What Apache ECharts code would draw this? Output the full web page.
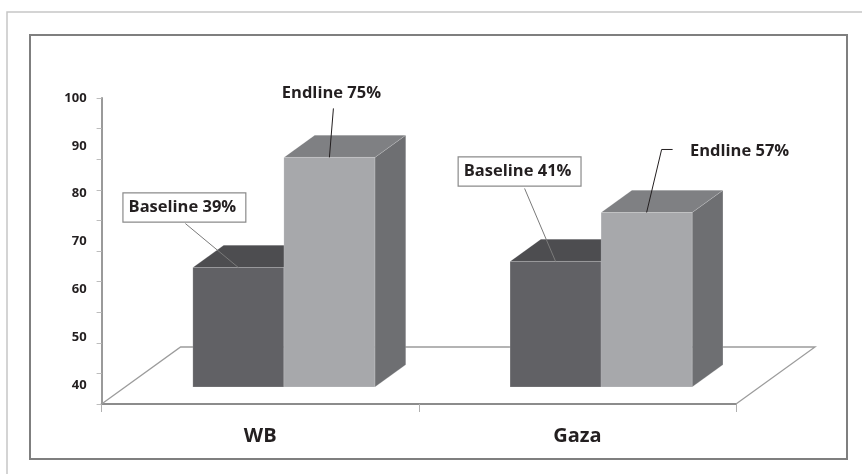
<!DOCTYPE html>
<html>
<head>
<meta charset="utf-8">
<script src="https://cdn.jsdelivr.net/npm/echarts@6/dist/echarts.min.js"></script>
<style>
  html, body { margin: 0; padding: 0; background: #ffffff; }
  #chart { width: 862px; height: 474px; }
</style>
</head>
<body>
<div id="chart"></div>
<script>
// Data
const categories = ['WB', 'Gaza'];
const seriesNames = ['Baseline', 'Endline'];
const baseline = [39, 41];
const endline = [75, 57];
const tickLabels = [40, 50, 60, 70, 80, 90, 100];

// 3D look: floor depth in px, bar footprint as fractions of band / floor depth
const FLOOR = { dx: 79, dy: 57 };
const BAR = { bandFrac: 0.287, depthStart: 0.3, depthFrac: 0.39 };
const FACE = [
  { front: '#616165', top: '#4d4d50', side: '#56565a' },
  { front: '#a7a8ab', top: '#7f8083', side: '#6e6f72' }
];
const TEXT = '#231f20';
const FONT = '"Open Sans", "Noto Sans", sans-serif';

// Callout placement relative to the middle of each bar's front-top edge
// CALLOUT[series][category]
const CALLOUT = [
  [
    { at: [-54, -60], box: true, lead: [[-53, -44], [0, 0]], color: '#7a7a7a' },
    { at: [-36, -90], box: true, lead: [[-31, -73], [0, 0]], color: '#7a7a7a' }
  ],
  [
    { at: [2, -64], box: false, lead: [[4, -49], [0, 0]], color: TEXT },
    { at: [93, -61], box: false, lead: [[26, -63], [15, -63], [0, 0]], color: TEXT }
  ]
];

function barRenderer(seriesIdx) {
  return function (params, api) {
    const ci = api.value(0);
    const v = api.value(1);
    const base = api.coord([ci, 0]);
    const top = api.coord([ci, v]);
    const bandW = api.size([1, 0])[0];
    const w = bandW * BAR.bandFrac;
    const sx = FLOOR.dx * BAR.depthStart, sy = FLOOR.dy * BAR.depthStart;
    const ddx = FLOOR.dx * BAR.depthFrac, ddy = FLOOR.dy * BAR.depthFrac;
    const x0 = base[0] + sx - (seriesIdx === 0 ? w : 0);
    const yb = base[1] - sy;
    const yt = top[1] - sy;
    const c = FACE[seriesIdx];
    const edge = { stroke: 'rgba(255,255,255,0.25)', lineWidth: 0.6 };
    const children = [
      { type: 'polygon', shape: { points: [[x0 + w, yt], [x0 + w + ddx, yt - ddy], [x0 + w + ddx, yb - ddy], [x0 + w, yb]] },
        style: Object.assign({ fill: c.side }, edge) },
      { type: 'polygon', shape: { points: [[x0, yt], [x0 + w, yt], [x0 + w + ddx, yt - ddy], [x0 + ddx, yt - ddy]] },
        style: Object.assign({ fill: c.top }, edge) },
      { type: 'rect', shape: { x: x0, y: yt, width: w, height: yb - yt },
        style: Object.assign({ fill: c.front }, edge) }
    ];
    // callout with leader line
    const co = CALLOUT[seriesIdx][params.dataIndexInside];
    const ax = x0 + w / 2, ay = yt;
    children.push({
      type: 'polyline',
      shape: { points: co.lead.map(p => [ax + p[0], ay + p[1]]) },
      style: { stroke: co.color, lineWidth: 1, fill: null },
      z2: 20
    });
    const txt = seriesNames[seriesIdx] + ' ' + v + '%';
    const ts = {
      text: txt, x: ax + co.at[0], y: ay + co.at[1],
      align: 'center', verticalAlign: 'middle',
      font: 'bold 16.5px ' + FONT, fill: TEXT
    };
    if (co.box) {
      Object.assign(ts, {
        backgroundColor: '#ffffff', borderColor: '#8a8a8a', borderWidth: 1.2,
        padding: [6, 9, 5, 5]
      });
    }
    children.push({ type: 'text', style: ts, z2: 30 });
    return { type: 'group', children: children };
  };
}

const chart = echarts.init(document.getElementById('chart'), null, { renderer: 'canvas' });

const option = {
  backgroundColor: '#ffffff',
  animation: false,
  textStyle: { fontFamily: FONT },
  graphic: [
    // outer frame (top and left edges)
    { type: 'polyline', shape: { points: [[7, 474], [7, 12], [862, 12]] },
      style: { stroke: '#c6c6c6', lineWidth: 1.5, fill: null }, silent: true },
    // inner plot frame
    { type: 'rect', shape: { x: 30, y: 35, width: 817, height: 424 },
      style: { stroke: '#7f7f7f', lineWidth: 2, fill: null }, silent: true }
  ],
  grid: [
    { left: 101.6, right: 126, top: 98, bottom: 70, outerBoundsMode: 'none', containLabel: false },
    { left: 101.6, right: 126, top: 98, bottom: 89, outerBoundsMode: 'none', containLabel: false }
  ],
  xAxis: [
    {
      type: 'category', gridIndex: 0, data: categories, boundaryGap: true,
      axisLine: { show: true, lineStyle: { color: '#8c8c8c', width: 2 } },
      axisTick: { show: true, length: 8, lineStyle: { color: '#b0b0b0', width: 1 } },
      axisLabel: { show: true, margin: 22, color: TEXT, fontSize: 20, fontWeight: 'bold', fontFamily: FONT },
      splitLine: { show: false }
    },
    { type: 'category', gridIndex: 1, data: categories, show: false }
  ],
  yAxis: [
    {
      type: 'value', gridIndex: 0, min: 0, max: 100, interval: 10,
      axisLine: { show: true, lineStyle: { color: '#9a9a9a', width: 2 } },
      axisTick: { show: true, length: 5, lineStyle: { color: '#bdbdbd', width: 1 } },
      axisLabel: { show: false },
      splitLine: { show: false }
    },
    {
      type: 'value', gridIndex: 1,
      min: tickLabels[0], max: tickLabels[tickLabels.length - 1], interval: tickLabels[1] - tickLabels[0],
      axisLine: { show: false }, axisTick: { show: false }, splitLine: { show: false },
      axisLabel: { show: true, margin: 15, color: TEXT, fontSize: 13, fontWeight: 'bold', fontFamily: FONT }
    }
  ],
  series: [
    {
      name: 'floor', type: 'custom', xAxisIndex: 0, yAxisIndex: 0, clip: false, silent: true, z: 1,
      data: [[0, 0]],
      renderItem: function (params, api) {
        const cs = params.coordSys;
        const xl = cs.x, xr = cs.x + cs.width, yb = cs.y + cs.height;
        return {
          type: 'polyline',
          shape: { points: [[xl, yb], [xl + FLOOR.dx, yb - FLOOR.dy], [xr + FLOOR.dx, yb - FLOOR.dy], [xr, yb]] },
          style: { stroke: '#9c9c9c', lineWidth: 1.3, fill: null }
        };
      }
    },
    {
      name: seriesNames[0], type: 'custom', xAxisIndex: 0, yAxisIndex: 0, clip: false, z: 2,
      data: baseline.map((v, i) => [i, v]),
      renderItem: barRenderer(0)
    },
    {
      name: seriesNames[1], type: 'custom', xAxisIndex: 0, yAxisIndex: 0, clip: false, z: 3,
      data: endline.map((v, i) => [i, v]),
      renderItem: barRenderer(1)
    }
  ]
};

chart.setOption(option);
</script>
</body>
</html>
